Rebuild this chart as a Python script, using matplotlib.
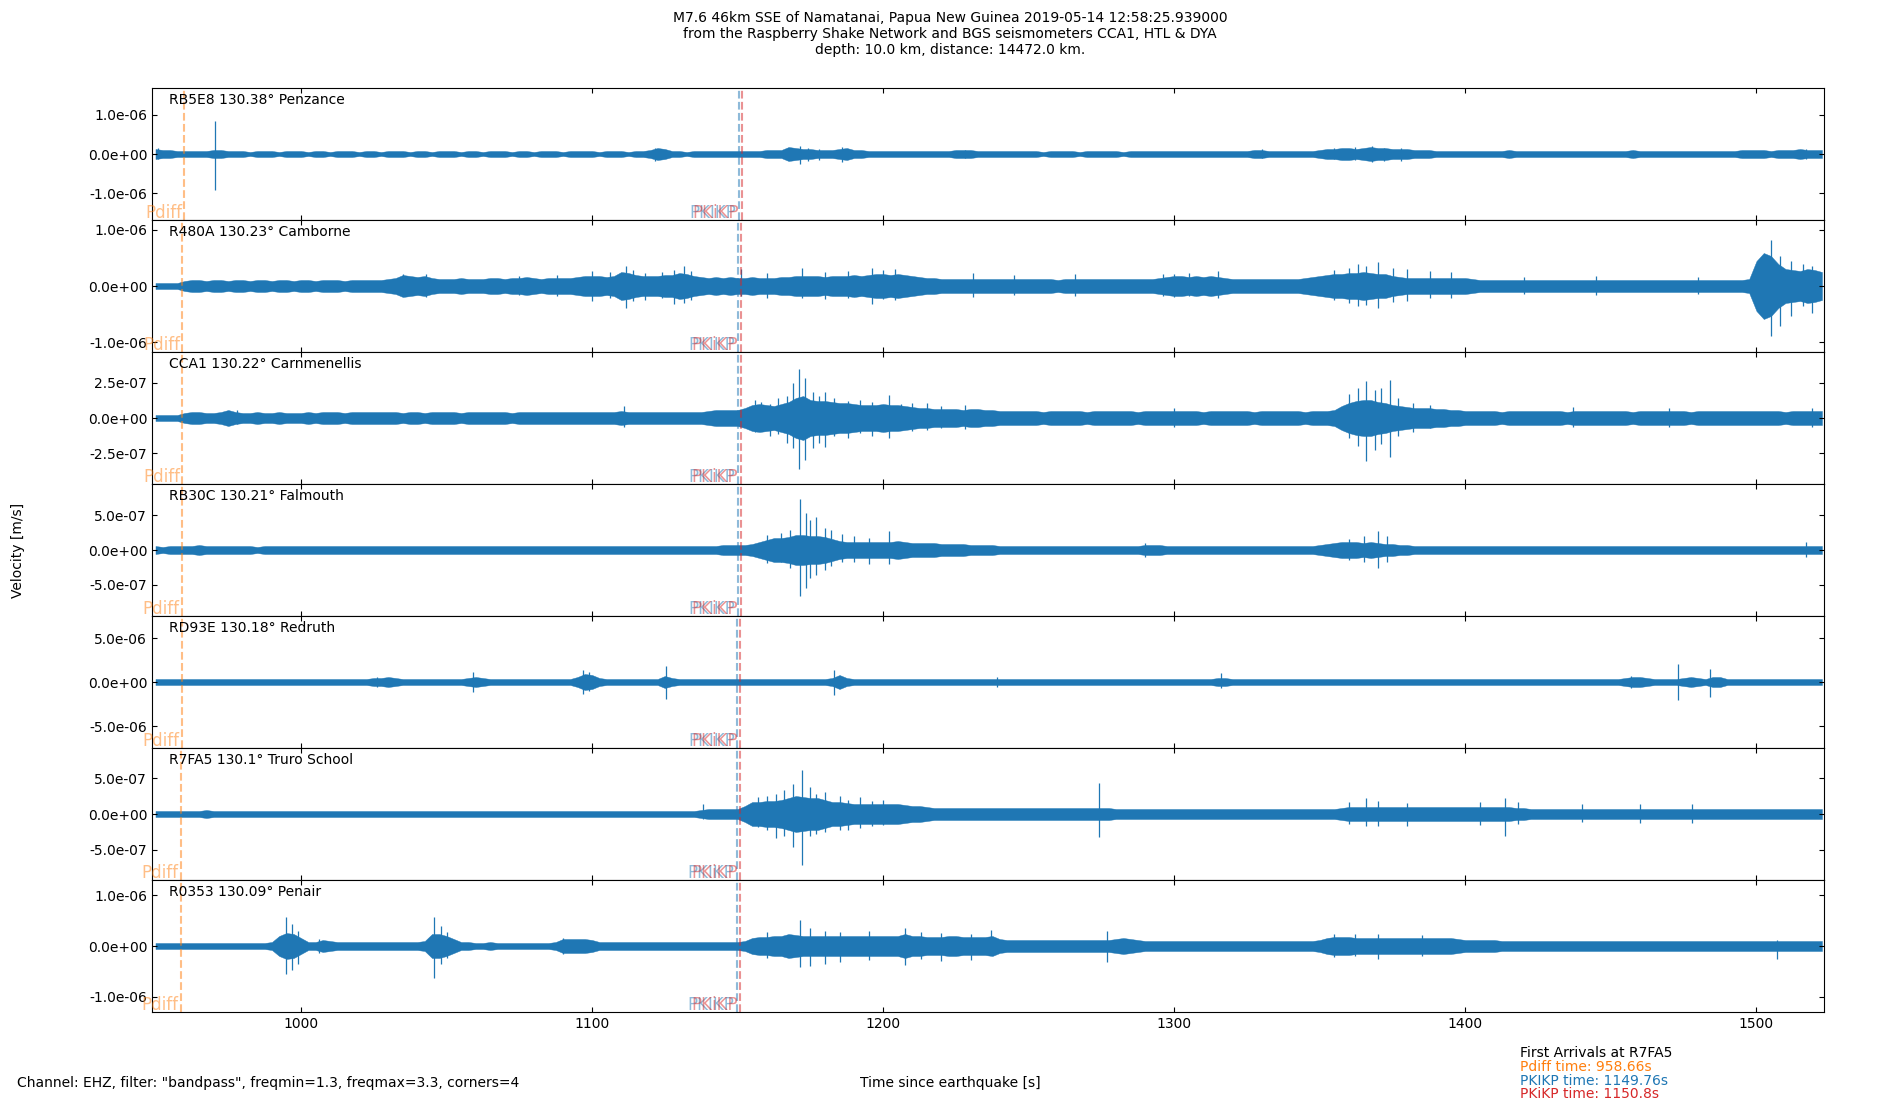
import numpy as np
import matplotlib
matplotlib.use("Agg")
import matplotlib.pyplot as plt
import matplotlib.transforms as mtransforms
from matplotlib.ticker import FixedLocator, FormatStrFormatter, MultipleLocator

# ---------------- data ----------------
codes = ["RB5E8", "R480A", "CCA1", "RB30C", "RD93E", "R7FA5", "R0353"]
distances = [130.38, 130.23, 130.22, 130.21, 130.18, 130.1, 130.09]
places = ["Penzance", "Camborne", "Carnmenellis", "Falmouth", "Redruth",
          "Truro School", "Penair"]

# y-limits (m/s) and y tick step for each panel
ylims = [1.68e-6, 1.17e-6, 4.67e-7, 9.5e-7, 7.5e-6, 9.2e-7, 1.3e-6]
ysteps = [1e-6, 1e-6, 2.5e-7, 5e-7, 5e-6, 5e-7, 1e-6]

# phase arrival times (s) per station
pdiff_t = [959.9, 959.24, 959.2, 959.15, 959.0, 958.66, 958.62]
pkikp_t = [1150.29, 1150.01, 1149.99, 1149.97, 1149.91, 1149.76, 1149.74]
pkikp2_t = [1151.36, 1151.06, 1151.04, 1151.02, 1150.96, 1150.8, 1150.78]

# envelope start time and sample step (s)
env_t0 = 950.0
env_dt = 2.5

# trace envelopes (half-amplitude, in 1/66 of each panel's y-limit), every 2.5 s
env_rb5e8 = [
    5, 4, 4, 3, 3, 3, 3, 3, 4, 4, 3, 3, 3, 2, 3, 3, 3, 2, 3, 3,
    3, 2, 3, 3, 2, 3, 3, 3, 2, 3, 3, 2, 3, 3, 3, 2, 3, 3, 2, 3,
    3, 3, 2, 3, 3, 2, 3, 3, 3, 2, 3, 3, 2, 3, 3, 3, 2, 3, 3, 3,
    3, 2, 3, 3, 3, 2, 3, 3, 4, 6, 5, 3, 3, 2, 3, 3, 3, 3, 3, 3,
    3, 3, 3, 3, 4, 4, 4, 7, 6, 5, 5, 4, 4, 4, 5, 6, 4, 4, 3, 3,
    3, 3, 3, 3, 3, 3, 3, 3, 3, 3, 4, 4, 4, 3, 3, 3, 3, 3, 3, 3,
    3, 3, 2, 3, 3, 3, 3, 2, 3, 3, 3, 3, 3, 2, 3, 3, 3, 3, 3, 3,
    3, 3, 3, 3, 3, 3, 3, 3, 3, 3, 3, 4, 4, 3, 3, 3, 3, 3, 3, 3,
    4, 5, 5, 6, 6, 5, 6, 7, 6, 6, 5, 5, 5, 4, 4, 4, 3, 3, 3, 3,
    3, 3, 3, 3, 3, 3, 4, 3, 3, 3, 3, 3, 3, 3, 3, 3, 3, 3, 3, 3,
    3, 3, 3, 4, 3, 3, 3, 3, 3, 3, 3, 3, 3, 3, 3, 3, 3, 3, 4, 4,
    4, 4, 3, 4, 4, 4, 5, 4, 4, 4]
env_r480a = [
    3, 3, 3, 3, 5, 6, 6, 5, 6, 6, 5, 6, 6, 5, 6, 6, 5, 6, 6, 5,
    6, 6, 5, 6, 6, 6, 5, 6, 6, 6, 6, 6, 7, 8, 11, 10, 9, 10, 8, 7,
    7, 7, 8, 7, 7, 7, 8, 8, 7, 8, 8, 9, 8, 7, 8, 8, 8, 8, 9, 10,
    10, 10, 9, 10, 14, 13, 11, 10, 10, 10, 11, 11, 13, 12, 10, 9, 8, 9, 8, 9,
    8, 8, 9, 8, 8, 8, 9, 9, 10, 10, 10, 10, 9, 10, 10, 10, 11, 10, 11, 12,
    12, 11, 12, 11, 10, 9, 8, 8, 7, 7, 7, 7, 7, 7, 7, 7, 7, 7, 7, 7,
    7, 7, 7, 7, 6, 7, 7, 7, 7, 7, 7, 7, 7, 7, 7, 7, 7, 7, 8, 9,
    10, 10, 9, 10, 9, 10, 9, 8, 7, 7, 7, 7, 7, 7, 7, 7, 7, 7, 8, 9,
    10, 11, 12, 12, 13, 13, 14, 13, 12, 12, 10, 9, 8, 8, 8, 8, 8, 8, 8, 8,
    8, 7, 6, 6, 6, 6, 6, 6, 6, 6, 6, 6, 6, 6, 6, 6, 6, 6, 6, 6,
    6, 6, 6, 6, 6, 6, 6, 6, 6, 6, 6, 6, 6, 6, 6, 6, 6, 6, 6, 7,
    25, 33, 30, 22, 17, 16, 15, 17, 16, 14]
env_cca1 = [
    3, 3, 3, 3, 5, 6, 6, 5, 5, 6, 8, 6, 5, 5, 6, 5, 5, 6, 5, 5,
    5, 6, 5, 6, 6, 6, 5, 6, 6, 6, 6, 6, 6, 6, 5, 6, 6, 5, 6, 6,
    6, 6, 5, 6, 6, 6, 6, 6, 6, 5, 6, 6, 6, 6, 6, 6, 6, 6, 6, 6,
    6, 6, 6, 6, 7, 6, 6, 6, 6, 6, 6, 6, 6, 6, 6, 6, 7, 8, 8, 8,
    8, 10, 13, 14, 13, 12, 14, 16, 20, 22, 18, 17, 17, 16, 15, 15, 14, 13, 13, 13,
    14, 13, 13, 12, 11, 10, 10, 9, 9, 9, 9, 8, 9, 9, 8, 8, 7, 7, 7, 7,
    7, 7, 6, 7, 7, 7, 7, 7, 6, 7, 7, 7, 7, 7, 7, 6, 7, 7, 7, 7,
    7, 7, 7, 7, 6, 7, 7, 7, 7, 7, 7, 6, 7, 7, 7, 7, 7, 7, 6, 7,
    7, 7, 8, 12, 15, 17, 18, 18, 16, 15, 13, 12, 11, 10, 10, 10, 9, 9, 8, 8,
    7, 7, 7, 7, 7, 6, 7, 7, 7, 7, 7, 7, 7, 7, 6, 7, 7, 7, 7, 7,
    7, 7, 7, 6, 7, 7, 7, 7, 7, 7, 7, 6, 7, 7, 7, 7, 7, 7, 7, 7,
    7, 7, 7, 7, 6, 7, 7, 7, 7, 7]
env_rb30c = [
    4, 3, 4, 4, 4, 4, 5, 4, 4, 4, 4, 4, 4, 4, 3, 4, 4, 4, 4, 4,
    4, 4, 4, 4, 4, 4, 4, 4, 4, 4, 4, 4, 4, 4, 4, 4, 4, 4, 4, 4,
    4, 4, 4, 4, 4, 4, 4, 4, 4, 4, 4, 4, 4, 4, 4, 4, 4, 4, 4, 4,
    4, 4, 4, 4, 4, 4, 4, 4, 4, 4, 4, 4, 4, 4, 4, 4, 4, 4, 5, 5,
    5, 5, 6, 8, 10, 12, 12, 13, 15, 15, 14, 14, 13, 11, 9, 8, 8, 8, 8, 8,
    8, 8, 9, 8, 7, 7, 7, 7, 6, 6, 6, 6, 5, 5, 5, 5, 4, 4, 4, 4,
    4, 4, 4, 4, 4, 4, 4, 4, 4, 4, 4, 4, 4, 4, 4, 4, 5, 5, 5, 4,
    4, 4, 4, 4, 4, 4, 4, 4, 4, 4, 4, 4, 4, 4, 4, 4, 4, 4, 4, 4,
    5, 6, 7, 8, 8, 8, 7, 8, 7, 6, 6, 5, 5, 4, 4, 4, 4, 4, 4, 4,
    4, 4, 4, 4, 4, 4, 4, 4, 4, 4, 4, 4, 4, 4, 4, 4, 4, 4, 4, 4,
    4, 4, 4, 4, 4, 4, 4, 4, 4, 4, 4, 4, 4, 4, 4, 4, 4, 4, 4, 4,
    4, 4, 4, 4, 4, 4, 4, 4, 4, 4]
env_rd93e = [
    3, 3, 3, 3, 3, 3, 3, 3, 3, 3, 3, 3, 3, 3, 3, 3, 3, 3, 3, 3,
    3, 3, 3, 3, 3, 3, 3, 3, 3, 3, 4, 4, 5, 4, 3, 3, 3, 3, 3, 3,
    3, 3, 3, 4, 5, 4, 3, 3, 3, 3, 3, 3, 3, 3, 3, 3, 3, 3, 5, 8,
    7, 4, 3, 3, 3, 3, 3, 3, 3, 3, 6, 4, 3, 3, 3, 3, 3, 3, 3, 3,
    3, 3, 3, 3, 3, 3, 3, 3, 3, 3, 3, 3, 3, 4, 7, 4, 3, 3, 3, 3,
    3, 3, 3, 3, 3, 3, 3, 3, 3, 3, 3, 3, 3, 3, 3, 3, 3, 3, 3, 3,
    3, 3, 3, 3, 3, 3, 3, 3, 3, 3, 3, 3, 3, 3, 3, 3, 3, 3, 3, 3,
    3, 3, 3, 3, 3, 3, 4, 4, 3, 3, 3, 3, 3, 3, 3, 3, 3, 3, 3, 3,
    3, 3, 3, 3, 3, 3, 3, 3, 3, 3, 3, 3, 3, 3, 3, 3, 3, 3, 3, 3,
    3, 3, 3, 3, 3, 3, 3, 3, 3, 3, 3, 3, 3, 3, 3, 3, 3, 3, 3, 3,
    3, 3, 4, 5, 5, 4, 3, 3, 3, 3, 4, 5, 4, 3, 5, 5, 3, 3, 3, 3,
    3, 3, 3, 3, 3, 3, 3, 3, 3, 3]
env_r7fa5 = [
    3, 3, 3, 3, 3, 3, 3, 4, 3, 3, 3, 3, 3, 3, 3, 3, 3, 3, 3, 3,
    3, 3, 3, 3, 3, 3, 3, 3, 3, 3, 3, 3, 3, 3, 3, 3, 3, 3, 3, 3,
    3, 3, 3, 3, 3, 3, 3, 3, 3, 3, 3, 3, 3, 3, 3, 3, 3, 3, 3, 3,
    3, 3, 3, 3, 3, 3, 3, 3, 3, 3, 3, 3, 3, 3, 3, 4, 5, 5, 5, 5,
    5, 8, 12, 12, 13, 13, 14, 16, 18, 17, 16, 16, 14, 12, 12, 11, 10, 10, 10, 10,
    10, 10, 10, 9, 8, 8, 7, 6, 6, 6, 6, 6, 6, 6, 6, 6, 6, 6, 6, 6,
    6, 6, 6, 6, 6, 6, 6, 6, 6, 6, 6, 6, 5, 5, 5, 5, 5, 5, 5, 5,
    5, 5, 5, 5, 5, 5, 5, 5, 5, 5, 5, 5, 5, 5, 5, 5, 5, 5, 5, 5,
    5, 5, 5, 6, 7, 7, 7, 7, 7, 7, 7, 7, 7, 7, 7, 7, 7, 7, 7, 7,
    7, 7, 7, 7, 7, 7, 7, 6, 6, 5, 5, 5, 5, 5, 5, 5, 5, 5, 5, 5,
    5, 5, 5, 5, 5, 5, 5, 5, 5, 5, 5, 5, 5, 5, 5, 5, 5, 5, 5, 5,
    5, 5, 5, 5, 5, 5, 5, 5, 5, 5]
env_r0353 = [
    3, 3, 3, 3, 3, 3, 3, 3, 3, 3, 3, 3, 3, 3, 3, 3, 4, 10, 13, 12,
    8, 4, 4, 6, 5, 4, 4, 4, 4, 4, 4, 4, 4, 4, 4, 4, 4, 5, 12, 12,
    10, 7, 4, 4, 3, 3, 4, 3, 3, 3, 3, 3, 3, 3, 3, 4, 7, 7, 7, 7,
    6, 4, 4, 4, 4, 4, 4, 4, 4, 4, 4, 4, 4, 4, 4, 4, 4, 4, 4, 4,
    4, 5, 8, 9, 9, 10, 10, 12, 11, 10, 10, 10, 10, 10, 10, 10, 10, 10, 10, 10,
    10, 10, 10, 12, 10, 10, 9, 9, 9, 10, 10, 9, 9, 9, 9, 10, 7, 6, 6, 6,
    6, 6, 6, 6, 6, 6, 6, 6, 6, 6, 6, 6, 7, 8, 7, 6, 5, 5, 5, 5,
    5, 5, 5, 5, 5, 5, 5, 5, 5, 5, 5, 5, 5, 5, 5, 5, 5, 5, 5, 5,
    6, 8, 9, 9, 9, 8, 8, 8, 8, 8, 8, 8, 8, 8, 8, 8, 8, 8, 8, 7,
    6, 6, 6, 6, 6, 5, 5, 5, 5, 5, 5, 5, 5, 5, 5, 5, 5, 5, 5, 5,
    5, 5, 5, 5, 5, 5, 5, 5, 5, 5, 5, 5, 5, 5, 5, 5, 5, 5, 5, 5,
    5, 5, 5, 5, 5, 5, 5, 5, 5, 5]

# prominent peaks: (time s, up, down) in 1/66 of the panel's y-limit
peaks_rb5e8 = [(951, 6, 5), (970.5, 33, 36), (1121.5, 6, 7), (1171.5, 8, 10),
               (1174, 6, 7), (1178, 5, 6), (1186, 7, 8), (1228, 4, 4),
               (1330, 5, 4), (1355, 6, 5), (1362, 7, 6), (1368, 8, 8),
               (1372, 6, 7), (1378, 6, 7), (1517, 5, 5)]
peaks_r480a = [(1035, 12, 10), (1043, 12, 11), (1075, 10, 9), (1088, 11, 10),
               (1100, 15, 15), (1106, 14, 12), (1111.5, 20, 22), (1114, 16, 15),
               (1118, 13, 14), (1124, 14, 12), (1128, 16, 18), (1131.5, 20, 17),
               (1134, 15, 14), (1151, 17, 10), (1160, 13, 12), (1172, 18, 12),
               (1180, 14, 13), (1188, 15, 12), (1196, 18, 18), (1200, 16, 13),
               (1204, 17, 14), (1231, 13, 11), (1245, 11, 9), (1266, 12, 10),
               (1296, 12, 10), (1300, 12, 11), (1305, 13, 10), (1315, 15, 12),
               (1355, 16, 14), (1360, 18, 17), (1363, 22, 20), (1366, 20, 19),
               (1370, 24, 22), (1375, 18, 16), (1380, 17, 15), (1388, 15, 12),
               (1395, 14, 12), (1420, 9, 8), (1445, 10, 9), (1480, 9, 8),
               (1505, 46, 50), (1508, 30, 40), (1512, 25, 30), (1516, 22, 20),
               (1519, 20, 27)]
peaks_cca1 = [(978, 8, 6), (1110.8, 12, 9), (1156, 18, 14), (1158, 16, 13),
              (1161, 14, 18), (1164, 20, 16), (1167, 22, 25), (1169, 35, 30),
              (1171, 49, 51), (1173, 40, 42), (1176, 26, 30), (1178, 22, 25),
              (1180, 26, 29), (1183, 20, 18), (1188, 17, 20), (1192, 18, 15),
              (1196, 16, 18), (1202, 23, 20), (1206, 14, 12), (1210, 15, 13),
              (1215, 15, 12), (1220, 12, 10), (1228, 13, 11), (1300, 10, 9),
              (1360, 24, 20), (1363, 30, 28), (1366, 37, 43), (1369, 28, 32),
              (1371, 30, 26), (1374, 38, 39), (1377, 20, 18), (1382, 15, 14),
              (1388, 13, 10), (1437, 11, 9), (1470, 10, 9), (1519, 10, 9)]
peaks_rb30c = [(1160, 15, 13), (1165, 17, 12), (1168, 20, 18), (1171.4, 51, 46),
               (1173.5, 37, 38), (1175, 30, 28), (1177, 33, 25), (1180, 22, 20),
               (1182, 20, 16), (1186, 16, 12), (1190, 14, 12), (1195, 12, 14),
               (1202, 19, 14), (1290, 7, 7), (1360, 11, 10), (1365, 14, 12),
               (1370, 19, 18), (1373, 14, 12), (1517, 8, 7)]
peaks_rd93e = [(1026, 5, 5), (1059, 10, 10), (1097, 12, 12), (1099, 10, 9),
               (1125.3, 16, 17), (1183, 12, 13), (1239, 5, 5), (1316, 9, 6),
               (1457, 6, 6), (1473, 18, 18), (1484, 13, 15)]
peaks_r7fa5 = [(1138, 10, 5), (1157, 17, 13), (1160, 18, 16), (1163, 20, 24),
               (1166, 24, 22), (1169, 30, 33), (1172, 44, 51), (1175, 27, 22),
               (1177, 20, 20), (1180, 22, 18), (1185, 18, 16), (1188, 14, 16),
               (1192, 17, 14), (1196, 13, 12), (1200, 14, 11), (1274, 31, 23),
               (1360, 12, 10), (1366, 16, 12), (1370, 13, 12), (1380, 11, 12),
               (1405, 12, 11), (1413.7, 16, 22), (1418, 12, 10), (1440, 10, 8),
               (1460, 10, 9), (1478, 10, 9)]
peaks_r0353 = [(995, 29, 28), (997, 22, 24), (999, 15, 18), (1006, 7, 7),
               (1045.6, 29, 32), (1048, 20, 18), (1050, 14, 12), (1090, 8, 8),
               (1160, 14, 12), (1171.4, 26, 21), (1175, 18, 20), (1180, 15, 18),
               (1185, 14, 16), (1195, 15, 14), (1207.5, 18, 19), (1213, 14, 13),
               (1220, 13, 15), (1230, 12, 14), (1237, 16, 9), (1277, 15, 16),
               (1355, 12, 11), (1362, 12, 10), (1370, 12, 13), (1385, 11, 10),
               (1507, 6, 13)]

envelopes = [env_rb5e8, env_r480a, env_cca1, env_rb30c, env_rd93e, env_r7fa5, env_r0353]
peaks = [peaks_rb5e8, peaks_r480a, peaks_cca1, peaks_rb30c, peaks_rd93e,
         peaks_r7fa5, peaks_r0353]

title = ("M7.6 46km SSE of Namatanai, Papua New Guinea 2019-05-14 12:58:25.939000\n"
         "from the Raspberry Shake Network and BGS seismometers CCA1, HTL & DYA\n"
         "depth: 10.0 km, distance: 14472.0 km.")
filter_text = 'Channel: EHZ, filter: "bandpass", freqmin=1.3, freqmax=3.3, corners=4'
arrivals_lines = ["First Arrivals at R7FA5", "Pdiff time: 958.66s",
                  "PKIKP time: 1149.76s", "PKiKP time: 1150.8s"]
arrivals_colors = ["black", "C1", "C0", "C3"]
xlim = (948.8, 1523.2)

# ---------------- plot ----------------
fig, axes = plt.subplots(7, 1, figsize=(19, 11), dpi=100, sharex=True)
fig.subplots_adjust(left=0.08, right=0.96, top=0.92, bottom=0.08, hspace=0)

for i, ax in enumerate(axes):
    unit = ylims[i] / 66.0
    a = np.array(envelopes[i], dtype=float) * unit
    t = env_t0 + env_dt * np.arange(len(a))
    ax.fill_between(t, -a, a, color="C0", lw=0.3)
    pk = np.array(peaks[i], dtype=float)
    ax.vlines(pk[:, 0], -pk[:, 2] * unit, pk[:, 1] * unit, color="C0", lw=0.9)

    ax.axvline(pdiff_t[i], color="C1", ls="--", lw=1.5, alpha=0.5)
    ax.axvline(pkikp_t[i], color="C0", ls="--", lw=1.5, alpha=0.5)
    ax.axvline(pkikp2_t[i], color="C3", ls="--", lw=1.5, alpha=0.5)

    trans = mtransforms.blended_transform_factory(ax.transData, ax.transAxes)
    ax.text(pdiff_t[i] - 0.8, 0.015, "Pdiff", color="C1", alpha=0.5, ha="right",
            va="baseline", fontsize=12, transform=trans)
    ax.text(pkikp_t[i] - 0.8, 0.015, "PKIKP", color="C0", alpha=0.5, ha="right",
            va="baseline", fontsize=12, transform=trans)
    ax.text(pkikp2_t[i] - 0.8, 0.015, "PKiKP", color="C3", alpha=0.5, ha="right",
            va="baseline", fontsize=12, transform=trans)

    ax.text(0.01, 0.96, f"{codes[i]} {distances[i]}° {places[i]}",
            transform=ax.transAxes, va="top", ha="left", fontsize=10)

    ax.set_ylim(-ylims[i], ylims[i])
    ax.yaxis.set_major_locator(FixedLocator([-ysteps[i], 0.0, ysteps[i]]))
    ax.yaxis.set_major_formatter(FormatStrFormatter("%.1e"))
    ax.xaxis.set_major_locator(MultipleLocator(100))
    ax.tick_params(direction="in", top=True, right=True, labelsize=10)

axes[-1].set_xlim(*xlim)

fig.suptitle(title, x=0.5, y=0.990, va="top", fontsize=10)
fig.text(0.0095, 0.5, "Velocity [m/s]", rotation=90, ha="center", va="center",
         fontsize=10)
fig.text(0.009, 0.015, filter_text, ha="left", va="center", fontsize=10)
fig.text(0.5, 0.015, "Time since earthquake [s]", ha="center", va="center",
         fontsize=10)
ys = [0.0428, 0.0298, 0.0175, 0.0052]
for txt, col, yy in zip(arrivals_lines, arrivals_colors, ys):
    fig.text(0.8, yy, txt, color=col, ha="left", va="center", fontsize=10)

fig.savefig("out.png", dpi=100)
